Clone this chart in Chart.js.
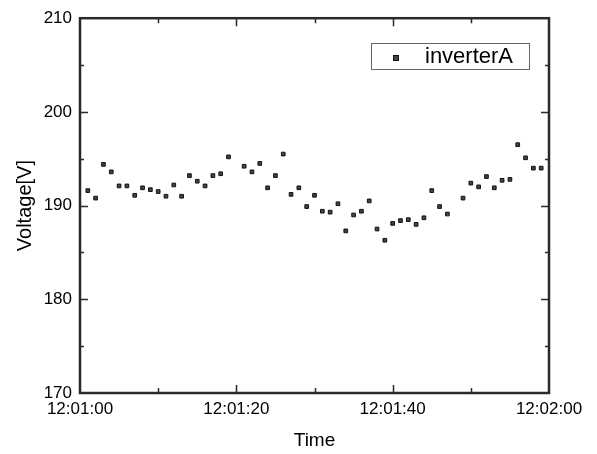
<!DOCTYPE html>
<html>
<head>
<meta charset="utf-8">
<script src="https://cdn.jsdelivr.net/npm/chart.js@4.4.1/dist/chart.umd.min.js"></script>
<style>
  html, body { margin: 0; padding: 0; background: #fff; }
</style>
</head>
<body>
<canvas id="chart" width="597" height="454"></canvas>
<script>
// seconds after 12:01:00 (no samples at 20 s and 48 s)
const seconds = [1, 2, 3, 4, 5, 6, 7, 8, 9, 10, 11, 12, 13, 14, 15, 16, 17, 18, 19,
  21, 22, 23, 24, 25, 26, 27, 28, 29, 30, 31, 32, 33, 34, 35, 36, 37, 38, 39, 40,
  41, 42, 43, 44, 45, 46, 47, 49, 50, 51, 52, 53, 54, 55, 56, 57, 58, 59];
const voltage = [191.6, 190.8, 194.4, 193.6, 192.1, 192.1, 191.1, 191.9, 191.7, 191.5,
  191.0, 192.2, 191.0, 193.2, 192.6, 192.1, 193.2, 193.4, 195.2,
  194.2, 193.6, 194.5, 191.9, 193.2, 195.5, 191.2, 191.9, 189.9, 191.1, 189.4, 189.3,
  190.2, 187.3, 189.0, 189.4, 190.5, 187.5, 186.3, 188.1,
  188.4, 188.5, 188.0, 188.7, 191.6, 189.9, 189.1, 190.8, 192.4, 192.0, 193.1,
  191.9, 192.7, 192.8, 196.5, 195.1, 194.0, 194.0];
const xTickValues = [0, 20, 40, 60];
const xTickLabels = ["12:01:00", "12:01:20", "12:01:40", "12:02:00"];
const yTickValues = [170, 180, 190, 200, 210];
const seriesName = "inverterA";

const FONT = "'Liberation Sans', Arial, sans-serif";

// box round the plot, inward ticks on all sides, legend in the corner
const framePlugin = {
  id: "frame",
  afterDraw(chart) {
    const { ctx, chartArea: a, scales } = chart;
    const xs = scales.x, ys = scales.y;
    ctx.save();
    ctx.strokeStyle = "#2a2a2a";
    ctx.lineWidth = 2.5;
    ctx.strokeRect(a.left, a.top, a.right - a.left, a.bottom - a.top);

    ctx.lineWidth = 1.5;
    ctx.beginPath();
    for (let s = 10; s < 60; s += 10) {
      const px = Math.round(xs.getPixelForValue(s)) + 0.5;
      const len = s % 20 === 0 ? 8 : 5;
      ctx.moveTo(px, a.bottom); ctx.lineTo(px, a.bottom - len);
      ctx.moveTo(px, a.top); ctx.lineTo(px, a.top + len);
    }
    for (let v = 175; v < 210; v += 5) {
      const py = Math.round(ys.getPixelForValue(v)) + 0.5;
      const len = v % 10 === 0 ? 8 : 4;
      ctx.moveTo(a.left, py); ctx.lineTo(a.left + len, py);
      ctx.moveTo(a.right, py); ctx.lineTo(a.right - len, py);
    }
    ctx.stroke();

    // legend
    const bx = 371, by = 43, bw = 158, bh = 26;
    ctx.fillStyle = "#fff";
    ctx.fillRect(bx, by, bw, bh);
    ctx.strokeStyle = "#666";
    ctx.lineWidth = 1;
    ctx.strokeRect(bx + 0.5, by + 0.5, bw, bh);
    ctx.fillStyle = "#444";
    ctx.strokeStyle = "#111";
    ctx.fillRect(393.5, 55.5, 5, 5);
    ctx.strokeRect(393.5, 55.5, 5, 5);
    ctx.fillStyle = "#000";
    ctx.font = "22px " + FONT;
    ctx.textBaseline = "middle";
    ctx.fillText(chart.data.datasets[0].label, 425, 57);
    ctx.restore();
  }
};

new Chart(document.getElementById("chart"), {
  type: "scatter",
  data: {
    datasets: [{
      label: seriesName,
      data: seconds.map((s, i) => ({ x: s, y: voltage[i] })),
      pointStyle: "rect",
      pointRadius: 2.6,
      pointBackgroundColor: "#444",
      pointBorderColor: "#111",
      pointBorderWidth: 1
    }]
  },
  options: {
    responsive: false,
    animation: false,
    layout: { padding: { top: 17, right: 48, left: 0, bottom: 0 } },
    plugins: { legend: { display: false }, tooltip: { enabled: false } },
    scales: {
      x: {
        type: "linear",
        min: 0,
        max: 60,
        afterBuildTicks: (scale) => { scale.ticks = xTickValues.map(v => ({ value: v })); },
        afterFit: (scale) => { scale.height = 61; },
        ticks: {
          color: "#000",
          font: { family: FONT, size: 17 },
          padding: 6,
          maxRotation: 0,
          callback: (v) => xTickLabels[xTickValues.indexOf(v)]
        },
        grid: { display: false, drawTicks: false },
        border: { display: false },
        title: {
          display: true,
          text: "Time",
          color: "#000",
          font: { family: FONT, size: 19 },
          padding: { top: 0, bottom: 2 }
        }
      },
      y: {
        min: 170,
        max: 210,
        afterBuildTicks: (scale) => { scale.ticks = yTickValues.map(v => ({ value: v })); },
        afterFit: (scale) => { scale.width = 80; },
        ticks: {
          color: "#000",
          font: { family: FONT, size: 17 },
          padding: 8
        },
        grid: { display: false, drawTicks: false },
        border: { display: false },
        title: {
          display: true,
          text: "Voltage[V]",
          color: "#000",
          font: { family: FONT, size: 20 },
          padding: { top: 13, bottom: 0 }
        }
      }
    }
  },
  plugins: [framePlugin]
});
</script>
</body>
</html>
